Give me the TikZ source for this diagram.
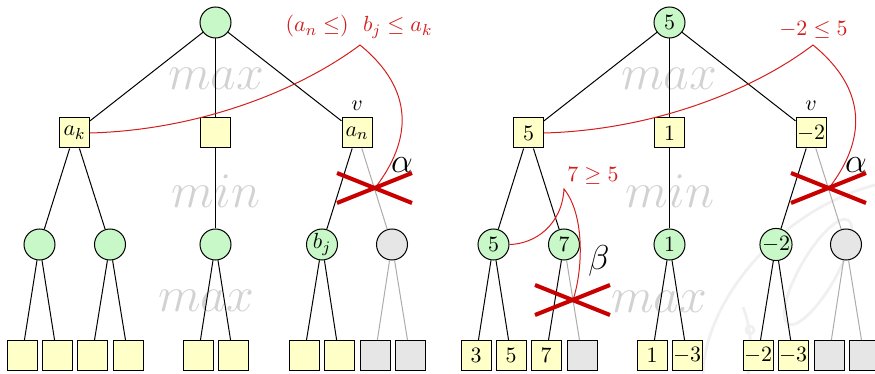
\documentclass[tikz,border=0pt]{standalone}
\definecolor{maxfill}{RGB}{200,248,200}
\definecolor{minfill}{RGB}{255,255,200}
\definecolor{cutfill}{RGB}{230,230,230}
\definecolor{annred}{RGB}{212,30,30}
\definecolor{crossred}{RGB}{200,0,0}
\definecolor{lvlgray}{RGB}{210,210,210}
\definecolor{wmgray}{RGB}{240,240,240}
\begin{document}
\begin{tikzpicture}[x=0.5pt,y=-0.5pt,
  font=\fontsize{11}{13}\selectfont,
  edge/.style={draw=black,line width=0.5pt},
  pruned/.style={draw=gray!65,line width=0.5pt},
  maxn/.style={circle,draw=black,fill=maxfill,minimum size=15.5pt,inner sep=0pt,line width=0.5pt},
  minn/.style={rectangle,draw=black,fill=minfill,minimum size=15pt,inner sep=0pt,line width=0.5pt},
  cutmax/.style={maxn,fill=cutfill},
  cutmin/.style={minn,fill=cutfill},
  lvl/.style={text=lvlgray,anchor=base,inner sep=0pt,font=\fontsize{26}{26}\selectfont},
  ann/.style={draw=annred,line width=0.5pt},
  anntext/.style={text=annred,anchor=base,inner sep=0pt},
  crossline/.style={draw=crossred,line width=2pt},
  greek/.style={anchor=base,inner sep=0pt,font=\LARGE},
  wm/.style={draw=wmgray,line width=1.4pt}
]
\useasboundingbox (0,0) rectangle (875,374);
% faint watermark
\draw[wm] (703,374) .. controls (705,300) and (780,210) .. (875,185);
\draw[wm,rotate around={-30:(818,272)}] (818,272) ellipse [x radius=18, y radius=60];
\draw[wm] (743,307) .. controls (752,330) and (752,355) .. (748,374);
\draw[wm] (750,330) circle [radius=4];

% level labels
\node[lvl] (lvlLa) at (216,90) {$max$};
\node[lvl] (lvlLb) at (216,208) {$min$};
\node[lvl] (lvlLc) at (206,312) {$max$};
\node[lvl] (lvlRa) at (669,90) {$max$};
\node[lvl] (lvlRb) at (670,208) {$min$};
\node[lvl] (lvlRc) at (659,313) {$max$};

% ---------- left tree ----------
\node[maxn] (Lr) at (215.5,22.5) {};
\node[minn] (La) at (74.5,133) {$a_k$};
\node[minn] (Lb) at (215.5,133) {};
\node[minn] (Lc) at (357,133) {$a_n$};
\node[inner sep=0pt] (Lv) at (357,106) {$v$};
\node[maxn] (Laa) at (39.5,244.5) {};
\node[maxn] (Lab) at (110,244.5) {};
\node[maxn] (Lba) at (215.5,244.5) {};
\node[maxn] (Lca) at (322,244.5) {$b_j$};
\node[cutmax] (Lcb) at (392,244.5) {};
\node[minn] (L1) at (22,355.5) {};
\node[minn] (L2) at (57,355.5) {};
\node[minn] (L3) at (92,355.5) {};
\node[minn] (L4) at (128,355.5) {};
\node[minn] (L5) at (198,355.5) {};
\node[minn] (L6) at (233,355.5) {};
\node[minn] (L7) at (304,355.5) {};
\node[minn] (L8) at (339,355.5) {};
\node[cutmin] (L9) at (375,355.5) {};
\node[cutmin] (L10) at (410,355.5) {};
\draw[edge] (Lr) -- (La);
\draw[edge] (Lr) -- (Lb);
\draw[edge] (Lr) -- (Lc);
\draw[edge] (La) -- (Laa);
\draw[edge] (La) -- (Lab);
\draw[edge] (Lb) -- (Lba);
\draw[edge] (Lc) -- (Lca);
\draw[pruned] (Lc) -- (Lcb);
\draw[edge] (Laa) -- (L1);
\draw[edge] (Laa) -- (L2);
\draw[edge] (Lab) -- (L3);
\draw[edge] (Lab) -- (L4);
\draw[edge] (Lba) -- (L5);
\draw[edge] (Lba) -- (L6);
\draw[edge] (Lca) -- (L7);
\draw[edge] (Lca) -- (L8);
\draw[pruned] (Lcb) -- (L9);
\draw[pruned] (Lcb) -- (L10);

% left annotation
\node[anntext] (Ltxt) at (359,32) {$(a_n\le)\ \ b_j\le a_k$};
\coordinate (Lpk) at (360,45);
\coordinate (Lx) at (375,188);
\draw[ann] (La.east) .. controls (200,130) and (300,90) .. (Lpk)
  .. controls (415,90) and (412,140) .. (Lx);
\draw[crossline] (Lx) ++(-38,-15) -- ++(75,30);
\draw[crossline] (Lx) ++(-38,15) -- ++(75,-30);
\node[greek] (Lalpha) at (402,173) {$\alpha$};

% ---------- right tree ----------
\node[maxn] (Rr) at (669.5,22.5) {$5$};
\node[minn] (Ra) at (528.5,133) {$5$};
\node[minn] (Rb) at (669.5,133) {$1$};
\node[minn] (Rc) at (811,133) {$-2$};
\node[inner sep=0pt] (Rv) at (811,106) {$v$};
\node[maxn] (Raa) at (493.5,244.5) {$5$};
\node[maxn] (Rab) at (564,244.5) {$7$};
\node[maxn] (Rba) at (669.5,244.5) {$1$};
\node[maxn] (Rca) at (776,244.5) {$-2$};
\node[cutmax] (Rcb) at (846,244.5) {};
\node[minn] (R1) at (476,355.5) {$3$};
\node[minn] (R2) at (511,355.5) {$5$};
\node[minn] (R3) at (546,355.5) {$7$};
\node[cutmin] (R4) at (582,355.5) {};
\node[minn] (R5) at (652,355.5) {$1$};
\node[minn] (R6) at (687,355.5) {$-3$};
\node[minn] (R7) at (758,355.5) {$-2$};
\node[minn] (R8) at (793,355.5) {$-3$};
\node[cutmin] (R9) at (829,355.5) {};
\node[cutmin] (R10) at (864,355.5) {};
\draw[edge] (Rr) -- (Ra);
\draw[edge] (Rr) -- (Rb);
\draw[edge] (Rr) -- (Rc);
\draw[edge] (Ra) -- (Raa);
\draw[edge] (Ra) -- (Rab);
\draw[edge] (Rb) -- (Rba);
\draw[edge] (Rc) -- (Rca);
\draw[pruned] (Rc) -- (Rcb);
\draw[edge] (Raa) -- (R1);
\draw[edge] (Raa) -- (R2);
\draw[edge] (Rab) -- (R3);
\draw[pruned] (Rab) -- (R4);
\draw[edge] (Rba) -- (R5);
\draw[edge] (Rba) -- (R6);
\draw[edge] (Rca) -- (R7);
\draw[edge] (Rca) -- (R8);
\draw[pruned] (Rcb) -- (R9);
\draw[pruned] (Rcb) -- (R10);

% right annotations
\node[anntext] (Rtxt) at (813.5,36) {$-2\le 5$};
\coordinate (Rpk) at (813,45);
\coordinate (Rx) at (829,188);
\draw[ann] (Ra.east) .. controls (654,130) and (754,90) .. (Rpk)
  .. controls (868,90) and (866,140) .. (Rx);
\draw[crossline] (Rx) ++(-38,-15) -- ++(75,30);
\draw[crossline] (Rx) ++(-38,15) -- ++(75,-30);
\node[greek] (Ralpha) at (856,173) {$\alpha$};

\node[anntext] (Rtxt2) at (593,182) {$7\ge 5$};
\coordinate (Rpk2) at (564,189);
\coordinate (Rx2) at (573,300);
\draw[ann] (Raa.east) .. controls (535,244) and (562,225) .. (Rpk2)
  .. controls (585,215) and (583,270) .. (Rx2);
\draw[crossline] (Rx2) ++(-38,-15) -- ++(75,30);
\draw[crossline] (Rx2) ++(-38,15) -- ++(75,-30);
\node[greek] (Rbeta) at (599,270) {$\beta$};
\end{tikzpicture}
\end{document}
